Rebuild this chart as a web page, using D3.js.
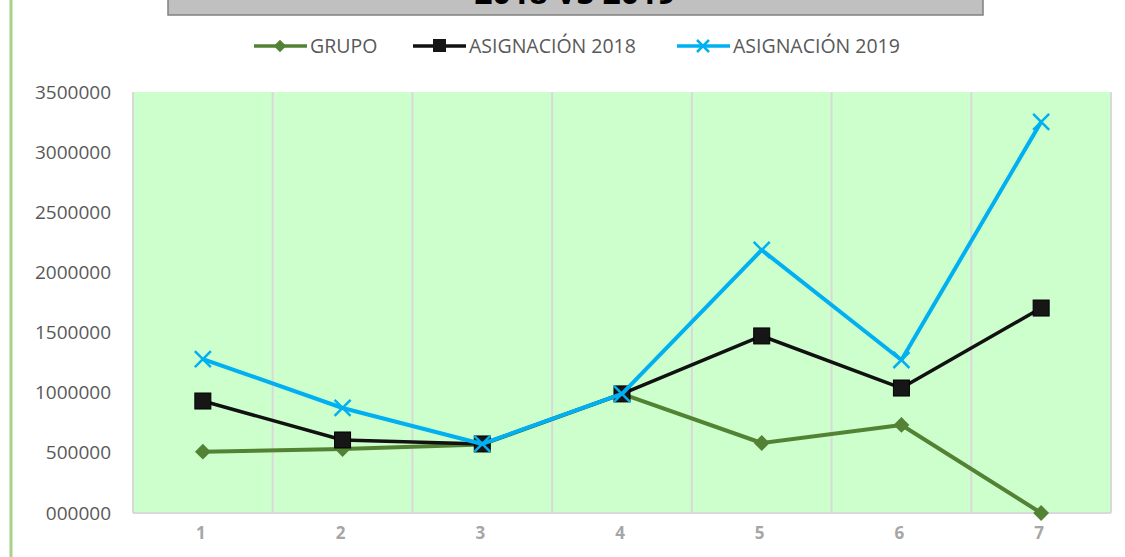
<!DOCTYPE html>
<html>
<head>
<meta charset="utf-8">
<script src="https://cdn.jsdelivr.net/npm/d3@7"></script>
<style>
  body { margin: 0; background: #fff; }
  text { font-family: "Open Sans", "Liberation Sans", sans-serif; }
</style>
</head>
<body>
<div id="chart"></div>
<script>
// data
var categories = ["1", "2", "3", "4", "5", "6", "7"];
var grupo = [510000, 532000, 570000, 990000, 582000, 732000, 0];
var asig2018 = [931000, 607000, 574000, 990000, 1472000, 1039000, 1704000];
var asig2019 = [1280000, 873000, 574000, 990000, 2187000, 1272000, 3251000];
var yTicks = [0, 500000, 1000000, 1500000, 2000000, 2500000, 3000000, 3500000];
var yTickLabels = ["000000", "500000", "1000000", "1500000", "2000000", "2500000", "3000000", "3500000"];
var seriesNames = ["GRUPO", "ASIGNACIÓN 2018", "ASIGNACIÓN 2019"];

// dimensions
var W = 1125, H = 557;
var margin = { top: 92, right: 14, bottom: 44, left: 133 },
  width = W - margin.left - margin.right,
  height = H - margin.top - margin.bottom;

var svg = d3.select("#chart").append("svg")
  .attr("width", W)
  .attr("height", H);

// green bar on the left edge
svg.append("line")
  .attr("x1", 11).attr("x2", 11)
  .attr("y1", 0).attr("y2", H)
  .attr("stroke", "#a9d18e")
  .attr("stroke-width", 3);

// title box (cut off at the top, as in the source)
svg.append("rect")
  .attr("x", 168).attr("y", -10)
  .attr("width", 815).attr("height", 25)
  .attr("fill", "#c0c0c0")
  .attr("stroke", "#808080")
  .attr("stroke-width", 1.5);
svg.append("text")
  .attr("x", 575).attr("y", 4)
  .attr("text-anchor", "middle")
  .style("font-size", "32px")
  .style("font-weight", "bold")
  .attr("fill", "#000")
  .text("2018 VS 2019");

var g = svg.append("g")
  .attr("transform", "translate(" + margin.left + "," + margin.top + ")");

var x = d3.scaleBand().domain(categories).range([0, width]);
var y = d3.scaleLinear().domain([0, 3500000]).range([height, 0]);

// plot background
g.append("rect")
  .attr("width", width).attr("height", height)
  .attr("fill", "#ccffcc");

// vertical grid lines at category edges
var edges = categories.map(function (c) { return x(c); }).concat([width]);
g.selectAll(".vgrid")
  .data(edges)
  .enter().append("line")
  .attr("x1", function (d) { return d; })
  .attr("x2", function (d) { return d; })
  .attr("y1", 0).attr("y2", height)
  .attr("stroke", "#d9d9d9")
  .attr("stroke-width", 2);

// bottom axis line
g.append("line")
  .attr("x1", 0).attr("x2", width)
  .attr("y1", height).attr("y2", height)
  .attr("stroke", "#d9d9d9")
  .attr("stroke-width", 2);

// y axis
var yAxis = g.append("g")
  .call(d3.axisLeft(y).tickValues(yTicks).tickSize(0).tickPadding(22)
    .tickFormat(function (d, i) { return yTickLabels[i]; }));
yAxis.select(".domain").remove();
yAxis.selectAll("text")
  .style("font-size", "19px")
  .attr("fill", "#595959");

// x axis
var xAxis = g.append("g")
  .attr("transform", "translate(0," + height + ")")
  .call(d3.axisBottom(x).tickSize(0).tickPadding(14));
xAxis.select(".domain").remove();
xAxis.selectAll("text")
  .attr("dx", -2)
  .style("font-size", "17px")
  .style("font-weight", "bold")
  .attr("fill", "#a6a6a6");

var cx = function (d, i) { return x(categories[i]) + x.bandwidth() / 2; };
var line = d3.line()
  .x(function (d, i) { return cx(d, i); })
  .y(function (d) { return y(d); });

// GRUPO
g.append("path").datum(grupo)
  .attr("d", line)
  .attr("fill", "none")
  .attr("stroke", "#548235")
  .attr("stroke-width", 4)
  .attr("stroke-linejoin", "round");
g.selectAll(".diamond")
  .data(grupo)
  .enter().append("path")
  .attr("d", d3.symbol().type(d3.symbolDiamond2).size(160))
  .attr("transform", function (d, i) { return "translate(" + cx(d, i) + "," + y(d) + ")"; })
  .attr("fill", "#548235");

// ASIGNACIÓN 2018
g.append("path").datum(asig2018)
  .attr("d", line)
  .attr("fill", "none")
  .attr("stroke", "#111")
  .attr("stroke-width", 3.5)
  .attr("stroke-linejoin", "round");
g.selectAll(".square")
  .data(asig2018)
  .enter().append("rect")
  .attr("x", function (d, i) { return cx(d, i) - 8; })
  .attr("y", function (d) { return y(d) - 8; })
  .attr("width", 16).attr("height", 16)
  .attr("fill", "#161616")
  .attr("stroke", "#000")
  .attr("stroke-width", 1);

// ASIGNACIÓN 2019
g.append("path").datum(asig2019)
  .attr("d", line)
  .attr("fill", "none")
  .attr("stroke", "#00b0f0")
  .attr("stroke-width", 4)
  .attr("stroke-linejoin", "round");
g.selectAll(".cross")
  .data(asig2019)
  .enter().append("path")
  .attr("d", "M-8,-8L8,8M-8,8L8,-8")
  .attr("transform", function (d, i) { return "translate(" + cx(d, i) + "," + y(d) + ")"; })
  .attr("stroke", "#00b0f0")
  .attr("stroke-width", 2.5)
  .attr("fill", "none");

// legend
var legendX = [254, 413, 677];
var legendColors = ["#548235", "#111", "#00b0f0"];
var legend = svg.append("g");
seriesNames.forEach(function (name, i) {
  var lx = legendX[i], ly = 46;
  legend.append("line")
    .attr("x1", lx).attr("x2", lx + 53)
    .attr("y1", ly).attr("y2", ly)
    .attr("stroke", legendColors[i])
    .attr("stroke-width", 3.5);
  if (i === 0) {
    legend.append("path")
      .attr("d", d3.symbol().type(d3.symbolDiamond2).size(100))
      .attr("transform", "translate(" + (lx + 26) + "," + ly + ")")
      .attr("fill", legendColors[i]);
  } else if (i === 1) {
    legend.append("rect")
      .attr("x", lx + 20).attr("y", ly - 7)
      .attr("width", 13).attr("height", 13)
      .attr("fill", "#161616");
  } else {
    legend.append("path")
      .attr("d", "M-6,-6L6,6M-6,6L6,-6")
      .attr("transform", "translate(" + (lx + 26) + "," + ly + ")")
      .attr("stroke", legendColors[i])
      .attr("stroke-width", 2.5);
  }
  legend.append("text")
    .attr("x", lx + 56).attr("y", ly + 7)
    .style("font-size", "19.5px")
    .attr("fill", "#595959")
    .text(name);
});
</script>
</body>
</html>
